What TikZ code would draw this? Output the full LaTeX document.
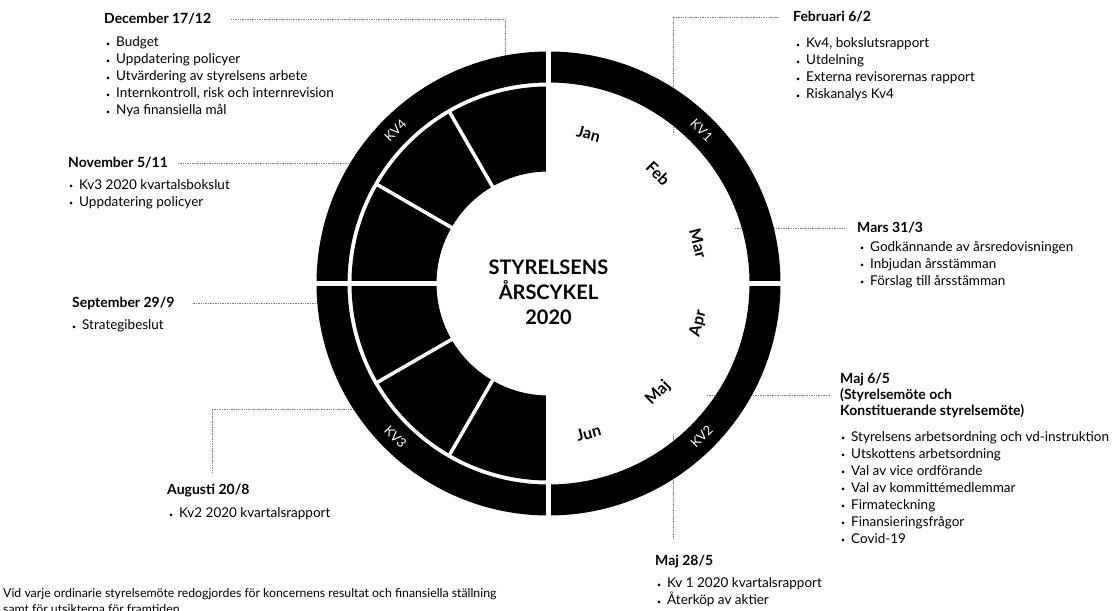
\documentclass[tikz,border=0pt]{standalone}
\usepackage{fontspec}
\setmainfont{Lato}

\newcommand{\pkt}{\makebox[10pt][l]{\raisebox{0.6pt}{\scriptsize\textbullet}}}

\tikzset{
    head/.style  = {font=\fontsize{14}{16}\selectfont\bfseries, anchor=west, inner sep=0pt, align=left},
    list/.style  = {font=\fontsize{13.5}{17}\selectfont, anchor=west, inner sep=0pt, align=left},
    conn/.style  = {densely dotted, gray, line width=0.7pt},
    month/.style = {font=\fontsize{16}{18}\selectfont\bfseries, inner sep=0pt},
    kv/.style    = {font=\fontsize{13}{15}\selectfont, text=white, inner sep=0pt},
}

\begin{document}
\begin{tikzpicture}[x=1pt, y=1pt]
    \useasboundingbox (0,0) rectangle (1115,610);
    \coordinate (C) at (548.5,326.5);

    % ends of the dotted lines, hidden under the ring
    \coordinate (decEnd)   at (505,537);
    \coordinate (novEnd)   at (370,447);
    \coordinate (sepEnd)   at (334,307);
    \coordinate (augEnd)   at (373,201);
    \coordinate (febEnd)   at (673,477);
    \coordinate (marEnd)   at (735,382);
    \coordinate (maj6End)  at (707,215);
    \coordinate (maj28End) at (673,176);

    % meetings
    \node[head] (dec) at (104,591) {December 17/12};
    \node[list] (decList) at (106,533) {\pkt Budget\\ \pkt Uppdatering policyer\\ \pkt Utvärdering av styrelsens arbete\\ \pkt Internkontroll, risk och internrevision\\ \pkt Nya finansiella mål};

    \node[head] (nov) at (68,447) {November 5/11};
    \node[list] (novList) at (69,416) {\pkt Kv3 2020 kvartalsbokslut\\ \pkt Uppdatering policyer};

    \node[head] (sep) at (72,307) {September 29/9};
    \node[list] (sepList) at (72,284) {\pkt Strategibeslut};

    \node[head] (aug) at (167,119) {Augusti 20/8};
    \node[list] (augList) at (169,96) {\pkt Kv2 2020 kvartalsrapport};

    \node[head] (feb) at (793,593) {Februari 6/2};
    \node[list] (febList) at (796,540.5) {\pkt Kv4, bokslutsrapport\\ \pkt Utdelning\\ \pkt Externa revisorernas rapport\\ \pkt Riskanalys Kv4};

    \node[head] (mar) at (857,382) {Mars 31/3};
    \node[list] (marList) at (860,345.5) {\pkt Godkännande av årsredovisningen\\ \pkt Inbjudan årsstämman\\ \pkt Förslag till årsstämman};

    \node[head] (maj6) at (840,215) {Maj 6/5\\ (Styrelsemöte och\\ Konstituerande styrelsemöte)};
    \node[list] (maj6List) at (841,122.5) {\pkt Styrelsens arbetsordning och vd-instruktion\\ \pkt Utskottens arbetsordning\\ \pkt Val av vice ordförande\\ \pkt Val av kommittémedlemmar\\ \pkt Firmateckning\\ \pkt Finansieringsfrågor\\ \pkt Covid-19};

    \node[head] (maj28) at (655,48) {Maj 28/5};
    \node[list] (maj28List) at (657,17.5) {\pkt Kv 1 2020 kvartalsrapport\\ \pkt Återköp av aktier};

    \node[font=\fontsize{12.3}{16}\selectfont, anchor=west, inner sep=0pt, align=left] (note) at (3,9) {Vid varje ordinarie styrelsemöte redogjordes för koncernens resultat och finansiella ställning\\ samt för utsikterna för framtiden};

    % dotted lines
    \draw[conn] ([xshift=20pt]dec.east) -| (decEnd);
    \draw[conn] ([xshift=10pt]nov.east) -- (novEnd);
    \draw[conn] ([xshift=18pt]sep.east) -- (sepEnd);
    \draw[conn] ([xshift=4pt,yshift=12pt]aug.north) |- (augEnd);
    \draw[conn] (febEnd) |- ([xshift=-14pt]feb.west);
    \draw[conn] (marEnd) -- ([xshift=-12pt]mar.west);
    \draw[conn] (maj6End) -- ([xshift=-9pt]maj6.west);
    \draw[conn, shorten >=16pt] (maj28End) -- (maj28End |- maj28.north);

    % ring
    \fill[even odd rule] (C) circle[radius=232] (C) circle[radius=201];
    \fill (C) ++(90:197) arc[start angle=90, end angle=270, radius=197]
        -- ++(0,85) arc[start angle=270, end angle=90, radius=112] -- cycle;
    \foreach \a in {120,150,210,240}
        \draw[white, line width=3.5pt] (C) ++(\a:108) -- ++(\a:92);
    \foreach \a in {0,90,180,270}
        \draw[white, line width=4.5pt] (C) ++(\a:108) -- ++(\a:128);

    \foreach \m/\a/\r in {Jan/75/-15, Feb/45/-45, Mar/15/-75, Apr/-15/75, Maj/-45/45, Jun/-75/15}
        \path (C) ++(\a:155) node[month, rotate=\r] (m\m) {\m};
    \foreach \k/\a/\r in {1/45/-45, 2/-45/45, 3/225/-45, 4/135/45}
        \path (C) ++(\a:216.5) node[kv, rotate=\r] (kv\k) {KV\k};

    \node[font=\fontsize{20}{25}\selectfont\bfseries, align=center] (title) at (548.5,318) {STYRELSENS\\ ÅRSCYKEL\\ 2020};
\end{tikzpicture}
\end{document}
